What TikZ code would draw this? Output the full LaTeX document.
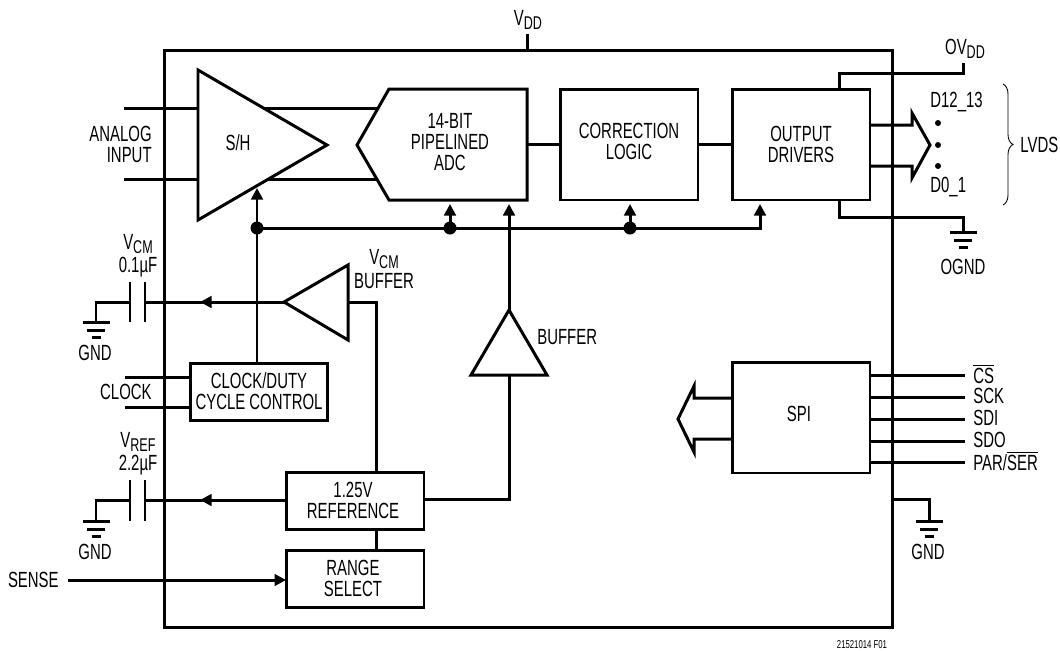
\documentclass[tikz,border=0pt]{standalone}
\usepackage{fontspec}
\setmainfont[FakeStretch=0.68]{Liberation Sans}
\usepackage{tikz}
\usetikzlibrary{arrows.meta,decorations.pathreplacing}
\newcommand{\lowsub}[2]{#1\raisebox{-.3ex}{\fontsize{10.5}{10.5}\selectfont #2}}
\newcommand{\barred}[1]{$\overline{\mbox{#1}}$}
\tikzset{
  wire/.style={line width=1.7pt,line cap=butt,>={Triangle[length=2.3mm,width=2.3mm]}},
  block/.style={
    draw,
    line width=1.7pt,
    fill=white,
    outer sep=0pt,
    inner sep=0pt,
    align=center,
    minimum width=2.76cm
  },
  tallblock/.style={block,minimum height=2.22cm},
  lowblock/.style={block,minimum height=1.14cm},
  label/.style={inner sep=0pt,align=center,font=\fontsize{12.5}{11.9}\selectfont},
  junction/.style={circle,fill=black,inner sep=0pt,minimum size=2.6mm},
  smalldot/.style={circle,fill=black,inner sep=0pt,minimum size=1.2mm},
  ground/.pic={
    \draw[line width=1.7pt] (-13.5,0) -- (13.5,0);
    \draw[line width=1.7pt] (-9,8) -- (9,8);
    \draw[line width=1.7pt] (-4.5,15) -- (4.5,15);
  }
}
\begin{document}
\begin{tikzpicture}[x=0.02cm,y=-0.02cm]
        \useasboundingbox (0,0) rectangle (1060,650);

        \node[draw,line width=1.7pt,outer sep=0pt,minimum width=14.58cm,minimum height=11.56cm] (chip) at (528.5,339) {};

        \node[tallblock] (corr) at (629,144.5) {};
        \node[tallblock] (drv) at (801,144.5) {};
        \node[tallblock] (spi) at (801,417.5) {};
        \node[lowblock] (clk) at (259,391.5) {};
        \node[lowblock] (ref) at (355,500.5) {};
        \node[lowblock] (rng) at (355,578.5) {};

        % pentagon and triangle corners
        \coordinate (adca) at (389,89);
        \coordinate (adcb) at (527,89);
        \coordinate (adcc) at (527,200);
        \coordinate (adcd) at (389,200);
        \coordinate (adce) at (357,145);
        \coordinate (sha) at (198,70);
        \coordinate (shb) at (327,145);
        \coordinate (shc) at (198,220);
        \coordinate (vba) at (348,265);
        \coordinate (vbb) at (284,302);
        \coordinate (vbc) at (348,340);
        \coordinate (bfa) at (509,310);
        \coordinate (bfb) at (547,375);
        \coordinate (bfc) at (471,375);

        % free ends
        \coordinate (vddpin) at (527,34);
        \coordinate (vddtop) at (527,50);
        \coordinate (ina) at (124,108);
        \coordinate (ina2) at (378,108);
        \coordinate (inb) at (124,179);
        \coordinate (inb2) at (378,179);
        \coordinate (ckina) at (125,377);
        \coordinate (ckinb) at (125,407);
        \coordinate (sensepin) at (68,580);
        \coordinate (capcmr) at (145,302);
        \coordinate (capcml) at (130,302);
        \coordinate (caprfr) at (145,500);
        \coordinate (caprfl) at (130,500);
        \coordinate (gndcm) at (96,322);
        \coordinate (gndrf) at (96,521);
        \coordinate (gndr) at (929,521);
        \coordinate (gndo) at (963,232);
        \coordinate (ovdd) at (963,63);

        \draw[wire] (vddpin) -- (vddtop);
        \draw[wire] (ina) -- (ina2);
        \draw[wire] (inb) -- (inb2);
        \draw[wire] (adcb |- corr.west) -- (corr.west);
        \draw[wire] (corr.east) -- (drv.west);
        \draw[wire] (839,89) -- (839,73) -| (ovdd);
        \draw[wire] (839,200) -- (839,217) -| (gndo);

        % output bus arrow
        \draw[wire] (870,125) -- (912,125) -- (912,113) -- (930,145) -- (912,178) -- (912,166) -- (870,166);
        % spi bus arrow
        \draw[wire] (spi.west |- 0,398) -- (694,398) -- (694,386) -- (678,419) -- (694,452) -- (694,439) -- (spi.west |- 0,439);

        % clock distribution
        \node[junction] (ja) at (257,228) {};
        \node[junction] (jb) at (450,228) {};
        \node[junction] (jc) at (630,228) {};
        \draw[wire,->] (ja.center) -- (jb.center) -- (jc.center) -- (760,228) -- (760,204);
        \draw[wire,->] (jb.center) -- (450,204);
        \draw[wire,->] (jc.center) -- (630,204);
        \draw[wire,->] (257,363) -- (257,188);

        \draw[wire] (vbb) -- (capcmr);
        \draw[wire,->] (vbb) -- (200,302);
        \draw[wire] (capcml) -| (gndcm);
        \draw[wire] (130,282) -- (130,322);
        \draw[wire] (145,282) -- (145,322);
        \draw[wire] (348,302) -- (376,302) -- (376,472);

        \draw[wire] (ref.west |- caprfr) -- (caprfr);
        \draw[wire,->] (ref.west |- caprfr) -- (200,500);
        \draw[wire] (caprfl) -| (gndrf);
        \draw[wire] (130,480) -- (130,521);
        \draw[wire] (145,480) -- (145,521);
        \draw[wire] (376,529) -- (376,550);
        \draw[wire] (424,499) -- (509,499) -- (509,375);
        \draw[wire,->] (509,375) -- (509,204);
        \draw[wire,->] (sensepin) -- (rng.west |- sensepin);

        \draw[wire] (ckina) -- (clk.west |- ckina);
        \draw[wire] (ckinb) -- (clk.west |- ckinb);

        \draw[wire] (spi.east |- 0,375) -- (965,375);
        \draw[wire] (spi.east |- 0,397) -- (965,397);
        \draw[wire] (spi.east |- 0,419) -- (965,419);
        \draw[wire] (spi.east |- 0,441) -- (965,441);
        \draw[wire] (spi.east |- 0,462) -- (965,462);
        \draw[wire] (chip.east |- 0,499) -| (gndr);

        \pic at (gndcm) {ground};
        \pic at (gndrf) {ground};
        \pic at (gndr) {ground};
        \pic at (gndo) {ground};

        \draw[wire,fill=white] (adca) -- (adcb) -- (adcc) -- (adcd) -- (adce) -- cycle;
        \draw[wire,fill=white] (sha) -- (shb) -- (shc) -- cycle;
        \draw[wire,fill=white] (vba) -- (vbb) -- (vbc) -- cycle;
        \draw[wire,fill=white] (bfa) -- (bfb) -- (bfc) -- cycle;

        \node[smalldot] (dota) at (938,123) {};
        \node[smalldot] (dotb) at (938,145) {};
        \node[smalldot] (dotc) at (938,166) {};

        \draw[line width=0.5pt,decorate,decoration={brace,amplitude=0.2cm}] (1003,84) -- (1003,205);

        \node[label] (lvdd) at (528,20) {\lowsub{V}{DD}};
        \node[label] (lovdd) at (965,49) {\lowsub{OV}{DD}};
        \node[label,align=right,anchor=east] (lana) at (152,144) {ANALOG\\INPUT};
        \node[label] (lsh) at (238,143) {S/H};
        \node[label] (ladc) at (450,142) {14-BIT\\PIPELINED\\ADC};
        \node[label] (lcorr) at (629,141) {CORRECTION\\LOGIC};
        \node[label] (ldrv) at (801,144) {OUTPUT\\DRIVERS};
        \node[label,anchor=west] (ldhi) at (930,102) {D12\_13};
        \node[label,anchor=west] (ldlo) at (930,187) {D0\_1};
        \node[label,anchor=west] (llvds) at (1020,145) {LVDS};
        \node[label] (logd) at (963,267) {OGND};
        \node[label] (lcm) at (138,244) {\lowsub{V}{CM}};
        \node[label] (lcmc) at (138,267) {0.1µF};
        \node[label] (lgcm) at (95,353) {GND};
        \node[label] (lvb) at (384,259) {\lowsub{V}{CM}};
        \node[label] (lvbb) at (384,281) {BUFFER};
        \node[label,anchor=west] (lbuf) at (537,337) {BUFFER};
        \node[label] (lclk) at (259,391) {CLOCK/DUTY\\CYCLE CONTROL};
        \node[label,anchor=east] (lck) at (152,392) {CLOCK};
        \node[label] (lrf) at (138,442) {\lowsub{V}{REF}};
        \node[label] (lrfc) at (138,465) {2.2µF};
        \node[label] (lgrf) at (95,552) {GND};
        \node[label] (lref) at (353,500) {1.25V\\REFERENCE};
        \node[label] (lrng) at (353,578) {RANGE\\SELECT};
        \node[label,anchor=east] (lsense) at (59,580) {SENSE};
        \node[label] (lspi) at (799,414) {SPI};
        \node[label,anchor=west] (lcs) at (973,374) {\barred{CS}};
        \node[label,anchor=west] (lsck) at (973,396) {SCK};
        \node[label,anchor=west] (lsdi) at (973,418) {SDI};
        \node[label,anchor=west] (lsdo) at (973,440) {SDO};
        \node[label,anchor=west] (lpar) at (973,461) {PAR/\barred{SER}};
        \node[label] (lgr) at (928,552) {GND};
        \node[label,font=\fontsize{6.5}{6.5}\selectfont] (lfig) at (862,645) {21521014 F01};
\end{tikzpicture}
\end{document}
